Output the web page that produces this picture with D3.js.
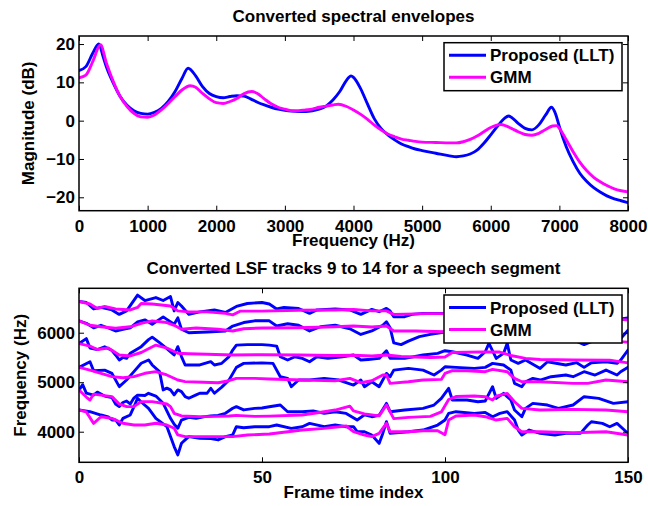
<!DOCTYPE html>
<html>
<head>
<meta charset="utf-8">
<script src="https://cdn.jsdelivr.net/npm/d3@7"></script>
<style>
  body { margin: 0; background: #fff; }
  text { font-family: "Liberation Sans", Arial, Helvetica, sans-serif; }
</style>
</head>
<body>
<div id="chart"></div>
<script>
// ---- data: spectral envelopes, [frequency Hz, magnitude dB] ----
const envLLT = [[0,13.1],[100,14.1],[200,17.6],[288,20],[350,16.8],[400,14],[500,9.8],[600,6.3],[700,4],[800,2.6],[900,1.9],[1000,1.7],[1100,2.2],[1200,3.2],[1300,5],[1400,7.6],[1500,11],[1590,13.7],[1700,11.7],[1800,8.9],[1900,7.1],[2000,6.3],[2100,6],[2200,6.3],[2300,6.5],[2400,6.4],[2500,5.7],[2600,4.8],[2700,4.1],[2800,3.5],[2900,3],[3000,2.7],[3100,2.5],[3200,2.4],[3300,2.4],[3400,2.6],[3500,3],[3600,3.8],[3700,5.4],[3800,7.6],[3900,10.6],[3964,11.7],[4000,11.3],[4100,8.5],[4200,4.5],[4300,0.6],[4400,-2],[4500,-3.7],[4600,-5],[4700,-6.1],[4800,-6.8],[4900,-7.4],[5000,-7.8],[5200,-8.5],[5400,-9.2],[5500,-9.4],[5600,-9.2],[5700,-8.7],[5800,-7.7],[5900,-5.9],[6000,-3.7],[6100,-1.4],[6200,0.6],[6260,1.2],[6300,0.9],[6400,-0.7],[6500,-2],[6600,-2.4],[6700,-1.1],[6800,1.5],[6885,3.5],[6950,1.5],[7000,-1.6],[7100,-6.8],[7200,-10.7],[7300,-13.8],[7400,-15.9],[7500,-17.5],[7600,-18.7],[7700,-19.7],[7800,-20.4],[7900,-20.9],[8000,-21.4]];
const envGMM = [[0,11.2],[100,11.9],[200,15.4],[313,19.8],[400,15],[500,10.2],[600,6.3],[700,3.7],[800,1.9],[900,1],[1000,0.9],[1100,1.5],[1200,2.8],[1300,4.5],[1400,6.3],[1500,8],[1620,9.1],[1700,8.7],[1800,7.1],[1900,5.7],[2000,4.7],[2100,4.5],[2200,5],[2300,5.8],[2400,7],[2518,7.6],[2600,7.1],[2700,5.7],[2800,4.4],[2900,3.5],[3000,3],[3100,2.6],[3200,2.6],[3300,2.8],[3400,3],[3500,3.5],[3600,3.8],[3700,4.1],[3780,4.3],[3900,3.7],[4000,2.8],[4100,1.7],[4200,0.4],[4300,-1.1],[4400,-2.4],[4500,-3.5],[4600,-4.2],[4700,-4.8],[4800,-5.1],[4900,-5.4],[5000,-5.6],[5200,-5.7],[5400,-5.8],[5500,-5.8],[5600,-5.5],[5700,-4.9],[5800,-4],[5900,-2.9],[6000,-1.8],[6100,-1.1],[6150,-1],[6200,-1.2],[6300,-2],[6400,-2.9],[6500,-3.6],[6600,-3.8],[6700,-3.3],[6800,-2.3],[6900,-1.4],[6958,-1.3],[7000,-2],[7100,-5],[7200,-8.1],[7300,-10.9],[7400,-13.1],[7500,-14.8],[7600,-16],[7700,-17],[7800,-17.8],[7900,-18.3],[8000,-18.6]];

// ---- data: LSF tracks, [frame index, frequency Hz] ----
const lltTrack14 = [[0,6630],[2,6610],[4,6480],[6,6510],[9,6460],[11,6370],[13,6440],[16,6760],[18,6650],[21,6710],[23,6650],[25,6730],[26,6440],[27,6610],[28,6540],[30,6370],[33,6420],[37,6460],[40,6410],[43,6530],[46,6590],[50,6610],[52,6580],[54,6480],[56,6510],[60,6490],[63,6390],[65,6460],[70,6480],[74,6460],[77,6370],[80,6470],[82,6424],[84,6490],[85,6440],[86,6320],[89,6323],[91,6370],[94,6390],[99,6390],[103,6380],[108,6400],[112,6360],[116,6390],[120,6330],[125,6350],[130,6320],[135,6340],[140,6300],[145,6320],[148,6280],[150,6300]];
const gmmTrack14 = [[0,6630],[3,6580],[5,6490],[7,6530],[10,6480],[14,6460],[16,6510],[17,6590],[20,6580],[25,6540],[27,6440],[30,6420],[35,6420],[40,6390],[42,6360],[44,6435],[50,6435],[60,6455],[70,6460],[75,6470],[80,6440],[84,6440],[86,6370],[95,6385],[100,6385],[110,6370],[120,6340],[130,6310],[140,6290],[150,6260]];
const lltTrack13 = [[0,6240],[2,6190],[4,6100],[6,6150],[8,6095],[10,6035],[12,6070],[14,6100],[16,6220],[18,6260],[20,6170],[22,6270],[23,6320],[24,6270],[26,6170],[27,6300],[28,6070],[30,6000],[35,6015],[40,6035],[42,6135],[45,6205],[48,6240],[52,6240],[54,6135],[57,6180],[60,6150],[63,6035],[66,6120],[70,6150],[74,6080],[77,5965],[80,6035],[83,6150],[84,6220],[85,6100],[86,5795],[88,5760],[90,5830],[93,5920],[96,5965],[100,6015],[105,6030],[110,5990],[115,6010],[120,5900],[125,5880],[130,5870],[135,5860],[138,5760],[141,5850],[146,5830],[148,5880],[150,6050]];
const gmmTrack13 = [[0,6240],[3,6150],[6,6120],[10,6090],[14,6120],[17,6190],[20,6240],[24,6205],[26,6150],[28,6070],[32,6095],[38,6070],[42,6035],[45,6080],[50,6095],[60,6100],[70,6120],[75,6135],[80,6115],[84,6135],[86,6035],[92,6035],[100,6020],[110,6000],[118,5960],[122,5900],[130,5880],[140,5850],[150,5810]];
const lltTrack12 = [[0,5780],[2,5880],[3,5690],[5,5660],[7,5715],[9,5640],[10,5550],[11,5450],[12,5500],[13,5483],[14,5584],[17,5718],[19,5860],[20,5910],[22,5800],[24,5680],[26,5550],[27,5718],[28,5517],[29,5348],[31,5350],[33,5348],[36,5415],[37,5348],[39,5382],[41,5517],[42,5650],[43,5750],[46,5760],[50,5760],[52,5750],[54,5730],[55,5515],[57,5448],[59,5515],[61,5481],[63,5414],[65,5515],[68,5481],[72,5515],[75,5549],[77,5448],[79,5460],[82,5481],[84,5636],[85,5481],[89,5481],[94,5549],[98,5582],[100,5636],[102,5616],[106,5549],[109,5481],[111,5616],[112,5785],[114,5481],[116,5582],[117,5785],[118,5448],[120,5380],[122,5448],[126,5279],[128,5414],[133,5347],[136,5394],[138,5300],[140,5394],[144,5414],[147,5380],[148,5448],[150,5650]];
const gmmTrack12 = [[0,5780],[3,5730],[5,5660],[8,5690],[11,5550],[14,5530],[17,5600],[21,5750],[24,5690],[27,5584],[30,5575],[35,5564],[42,5550],[50,5555],[60,5550],[70,5540],[75,5545],[80,5530],[84,5550],[88,5520],[96,5500],[100,5510],[102,5600],[110,5612],[115,5610],[118,5540],[122,5480],[126,5460],[135,5448],[145,5445],[150,5390]];
const lltTrack11 = [[0,5300],[3,5414],[4,5232],[7,5245],[9,5178],[11,4911],[13,5045],[15,5214],[17,5382],[19,5449],[20,5348],[22,5214],[23,4844],[24,4880],[25,4844],[26,4743],[27,4844],[28,4810],[29,4709],[30,4676],[32,4743],[33,4777],[35,4777],[36,4878],[37,4777],[39,4900],[41,5045],[43,5300],[45,5380],[50,5390],[53,5380],[55,5111],[57,5077],[58,4909],[60,5044],[63,5044],[67,5077],[71,5044],[75,4943],[77,5044],[78,4909],[80,5010],[82,4909],[83,5044],[84,5178],[85,5111],[86,5245],[90,5279],[94,5245],[97,5145],[99,5245],[100,5313],[103,5300],[108,5279],[111,5300],[113,5380],[116,5347],[118,5245],[119,4977],[121,4909],[122,5010],[124,5077],[126,5044],[129,5111],[133,5145],[135,5111],[138,5212],[141,5145],[144,5245],[147,5145],[148,5212],[150,5300]];
const gmmTrack11 = [[0,5300],[3,5245],[6,5178],[9,5112],[12,5090],[15,5112],[18,5180],[21,5214],[24,5146],[27,5045],[29,5012],[34,5000],[38,4990],[41,5030],[43,5077],[48,5077],[52,5064],[61,5044],[70,5030],[74,5077],[77,4990],[80,5030],[83,5145],[84,5145],[85,4977],[90,5010],[94,5044],[99,5057],[100,5178],[102,5232],[106,5232],[111,5212],[113,5259],[117,5212],[119,5077],[121,5010],[126,5010],[135,4977],[139,4977],[144,5044],[150,5010]];
const lltTrack10 = [[0,4840],[1,4950],[2,4780],[4,4740],[5,4800],[7,4720],[9,4690],[10,4560],[11,4507],[12,4590],[13,4620],[14,4560],[15,4680],[16,4740],[18,4730],[19,4776],[21,4720],[23,4574],[25,4270],[26,4150],[27,4069],[28,4236],[30,4290],[32,4270],[34,4300],[36,4320],[38,4330],[40,4372],[42,4473],[43,4507],[45,4440],[48,4471],[50,4480],[52,4505],[55,4539],[57,4404],[61,4404],[64,4420],[67,4370],[70,4404],[73,4370],[76,4236],[78,4340],[80,4303],[82,4330],[83,4450],[84,4572],[85,4404],[89,4438],[94,4471],[97,4539],[99,4673],[101,4876],[102,4640],[106,4640],[109,4606],[111,4620],[113,4909],[114,4673],[116,4775],[118,4640],[119,4438],[121,4303],[122,4471],[124,4572],[128,4539],[131,4471],[135,4539],[138,4707],[142,4673],[146,4572],[150,4606]];
const gmmTrack10 = [[0,4840],[2,4700],[3,4640],[4,4760],[6,4740],[9,4709],[11,4560],[13,4507],[15,4507],[17,4608],[20,4608],[24,4560],[25,4507],[26,4372],[28,4318],[33,4305],[38,4310],[41,4318],[43,4330],[48,4310],[52,4315],[61,4337],[67,4404],[70,4438],[74,4517],[75,4420],[78,4360],[82,4320],[84,4540],[86,4265],[90,4290],[96,4310],[99,4400],[101,4650],[103,4710],[108,4720],[111,4707],[113,4640],[114,4720],[117,4775],[119,4606],[121,4471],[126,4438],[135,4451],[144,4438],[150,4404]];
const lltTrack9 = [[0,4440],[3,4404],[6,4337],[8,4300],[9,4236],[10,4237],[11,4136],[12,4270],[14,4338],[15,4500],[16,4675],[17,4600],[19,4473],[21,4270],[24,4103],[25,3901],[26,3699],[27,3532],[28,3767],[29,3834],[30,3901],[33,3868],[36,3860],[38,3834],[40,3901],[42,3935],[43,4101],[45,4080],[48,4101],[52,4101],[54,4135],[58,4067],[61,4101],[63,4168],[67,4101],[70,4135],[73,4101],[75,4101],[76,4000],[78,4000],[80,3933],[82,3764],[83,3966],[84,4202],[85,3966],[90,4000],[94,4034],[98,4135],[100,4236],[101,4370],[103,4404],[108,4370],[111,4390],[113,4303],[115,4370],[117,4404],[119,4236],[120,4034],[121,3933],[123,4034],[126,3966],[130,3933],[133,3966],[137,3966],[139,4135],[140,4202],[143,4168],[145,4101],[147,4168],[149,4034],[150,3966]];
const gmmTrack9 = [[0,4440],[2,4400],[4,4168],[6,4303],[9,4270],[12,4170],[15,4136],[18,4136],[21,4170],[24,4136],[26,4069],[27,3935],[29,3901],[33,3901],[38,3901],[42,3901],[46,3933],[52,3953],[61,4034],[67,4067],[73,4115],[75,4000],[78,3933],[80,3900],[82,3966],[84,4168],[85,4000],[90,4000],[94,4020],[98,4020],[100,3940],[101,4236],[103,4317],[108,4337],[111,4303],[114,4236],[117,4270],[119,4101],[121,4000],[126,4000],[135,3980],[144,4000],[150,3933]];

const lltTracks = [lltTrack9, lltTrack10, lltTrack11, lltTrack12, lltTrack13, lltTrack14];
const gmmTracks = [gmmTrack9, gmmTrack10, gmmTrack11, gmmTrack12, gmmTrack13, gmmTrack14];

// ---- tick labels ----
const envFreqTicks = [0, 1000, 2000, 3000, 4000, 5000, 6000, 7000, 8000];
const envMagTicks = [-20, -10, 0, 10, 20];
const frameTicks = [0, 50, 100, 150];
const lsfFreqTicks = [4000, 5000, 6000];
const legendLabels = ["Proposed (LLT)", "GMM"];

const BLUE = "#0000ff", MAGENTA = "#ff00ff";
const FONT = 17;

const svg = d3.select("#chart").append("svg")
    .attr("width", 648)
    .attr("height", 506);

function drawPanel(cfg) {
    const x = d3.scaleLinear().domain(cfg.xDomain).range([cfg.left, cfg.right]);
    const y = d3.scaleLinear().domain(cfg.yDomain).range([cfg.bottom, cfg.top]);
    const g = svg.append("g");

    const clipId = "clip" + cfg.id;
    svg.append("clipPath").attr("id", clipId)
        .append("rect")
        .attr("x", cfg.left).attr("y", cfg.top)
        .attr("width", cfg.right - cfg.left).attr("height", cfg.bottom - cfg.top);

    // lines (LLT first, GMM on top)
    const line = d3.line()
        .x(d => x(d[0]))
        .y(d => y(d[1]))
        .curve(cfg.curve);

    const lines = g.append("g").attr("clip-path", "url(#" + clipId + ")");
    cfg.series.forEach(s => {
        s.data.forEach(arr => {
            lines.append("path")
                .datum(arr)
                .attr("d", line)
                .attr("fill", "none")
                .attr("stroke", s.color)
                .attr("stroke-width", 2.9)
                .attr("stroke-linejoin", "round")
                .attr("stroke-linecap", "round");
        });
    });

    // axes, ticks pointing inwards on all four sides
    const styleAxis = sel => {
        sel.select(".domain").remove();
        sel.selectAll(".tick line").attr("stroke", "#000").attr("stroke-width", 1);
        sel.selectAll(".tick text")
            .attr("fill", "#000")
            .style("font-size", FONT + "px")
            .style("font-weight", "bold")
            .style("font-family", "'Liberation Sans', Arial, sans-serif");
    };

    g.append("g")
        .attr("transform", "translate(0," + cfg.bottom + ")")
        .call(d3.axisBottom(x).tickValues(cfg.xTicks).tickSizeInner(-5).tickSizeOuter(0).tickPadding(9).tickFormat(d3.format("d")))
        .call(styleAxis);
    g.append("g")
        .attr("transform", "translate(0," + cfg.top + ")")
        .call(d3.axisTop(x).tickValues(cfg.xTicks).tickSizeInner(-5).tickSizeOuter(0).tickFormat(""))
        .call(styleAxis);
    g.append("g")
        .attr("transform", "translate(" + cfg.left + ",0)")
        .call(d3.axisLeft(y).tickValues(cfg.yTicks).tickSizeInner(-5).tickSizeOuter(0).tickPadding(4).tickFormat(d3.format("d")))
        .call(styleAxis);
    g.append("g")
        .attr("transform", "translate(" + cfg.right + ",0)")
        .call(d3.axisRight(y).tickValues(cfg.yTicks).tickSizeInner(-5).tickSizeOuter(0).tickFormat(""))
        .call(styleAxis);

    // axes box
    g.append("rect")
        .attr("x", cfg.left).attr("y", cfg.top)
        .attr("width", cfg.right - cfg.left).attr("height", cfg.bottom - cfg.top)
        .attr("fill", "none").attr("stroke", "#000").attr("stroke-width", 1.5);

    // title and axis labels
    g.append("text")
        .attr("x", (cfg.left + cfg.right) / 2).attr("y", cfg.top - 14)
        .attr("text-anchor", "middle")
        .style("font-size", "17px").style("font-weight", "bold")
        .text(cfg.title);
    g.append("text")
        .attr("x", (cfg.left + cfg.right) / 2).attr("y", cfg.bottom + 35.5)
        .attr("text-anchor", "middle")
        .style("font-size", FONT + "px").style("font-weight", "bold")
        .text(cfg.xLabel);
    g.append("text")
        .attr("transform", "translate(" + cfg.yLabelX + "," + (cfg.top + cfg.bottom) / 2 + ") rotate(-90)")
        .attr("text-anchor", "middle")
        .style("font-size", FONT + "px").style("font-weight", "bold")
        .text(cfg.yLabel);

    // legend in the upper right corner
    const lg = g.append("g").attr("transform", "translate(" + (cfg.right - 184) + "," + (cfg.top + 6.7) + ")");
    lg.append("rect")
        .attr("width", 178).attr("height", 48)
        .attr("fill", "#fff").attr("stroke", "#000").attr("stroke-width", 1.5);
    cfg.series.forEach((s, i) => {
        const ly = 12.5 + i * 22;
        lg.append("line")
            .attr("x1", 5).attr("x2", 42).attr("y1", ly).attr("y2", ly)
            .attr("stroke", s.color).attr("stroke-width", 2.9);
        lg.append("text")
            .attr("x", 46).attr("y", ly + 6)
            .style("font-size", FONT + "px").style("font-weight", "bold")
            .text(legendLabels[i]);
    });
}

drawPanel({
    id: "env",
    left: 79, right: 628, top: 36, bottom: 210.7,
    xDomain: [0, 8000], yDomain: [-23.5, 22.1],
    xTicks: envFreqTicks, yTicks: envMagTicks,
    curve: d3.curveMonotoneX,
    series: [{ data: [envLLT], color: BLUE }, { data: [envGMM], color: MAGENTA }],
    title: "Converted spectral envelopes",
    xLabel: "Frequency (Hz)",
    yLabel: "Magnitude (dB)",
    yLabelX: 34
});

drawPanel({
    id: "lsf",
    left: 79, right: 628, top: 288.3, bottom: 462.3,
    xDomain: [0, 150], yDomain: [3382, 6897],
    xTicks: frameTicks, yTicks: lsfFreqTicks,
    curve: d3.curveLinear,
    series: [{ data: lltTracks, color: BLUE }, { data: gmmTracks, color: MAGENTA }],
    title: "Converted LSF tracks 9 to 14 for a speech segment",
    xLabel: "Frame time index",
    yLabel: "Frequency (Hz)",
    yLabelX: 26
});
</script>
</body>
</html>
